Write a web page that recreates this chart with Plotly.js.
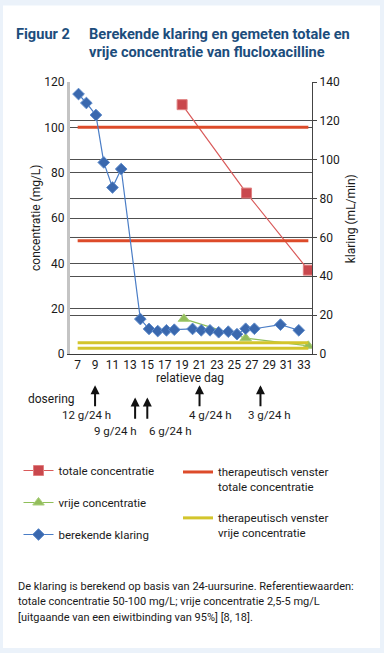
<!DOCTYPE html>
<html>
<head>
<meta charset="utf-8">
<script src="https://cdn.plot.ly/plotly-3.0.1.min.js"></script>
<style>
  html, body { margin: 0; padding: 0; background: #ebf2fa; }
  #chart { width: 384px; height: 653px; }
</style>
</head>
<body>
<div id="chart"></div>
<script>
// ---------- data ----------
const klaringDays   = [7.1, 8.0, 9.1, 10.0, 11.0, 12.0, 14.2, 15.2, 16.2, 17.2, 18.1, 20.2, 21.2, 22.2, 23.2, 24.3, 25.3, 26.3, 27.3, 30.3, 32.4];
const klaringValues = [133.8, 129.2, 123.0, 98.6, 85.7, 95.2, 18.0, 12.9, 11.8, 12.2, 12.5, 12.9, 12.2, 12.2, 11.2, 11.5, 10.2, 13.0, 13.0, 15.1, 12.2];

const totaleDays   = [19.0, 26.4, 33.5];
const totaleValues = [110, 71, 37];

const vrijeDays   = [19.2, 26.3, 33.5];
const vrijeValues = [15.5, 7.0, 3.6];

const windowStart = 7, windowEnd = 33.5;
const totaleWindow = [50, 100];
const vrijeWindow  = [2.5, 5];

const xTickVals = [7, 9, 11, 13, 15, 17, 19, 21, 23, 25, 27, 29, 31, 33];

const doseDays   = [9, 13.6, 15, 21, 28];
const doseLabels = ['12 g/24 h', '9 g/24 h', '6 g/24 h', '4 g/24 h', '3 g/24 h'];

const footnoteLines = [
  'De klaring is berekend op basis van 24-uursurine. Referentiewaarden:',
  'totale concentratie 50-100 mg/L; vrije concentratie 2,5-5 mg/L',
  '[uitgaande van een eiwitbinding van 95%] [8, 18].'
];

// ---------- geometry helpers ----------
const W = 384, H = 653, ML = 70, MR = 72, MT = 81.5, MB = 299.2;
const PW = W - ML - MR, PH = H - MT - MB;
const px2x = px => (px - ML) / PW;
const py2y = py => (H - MB - py) / PH;

const FONT = 'Roboto, "DejaVu Sans", sans-serif';
const TXT = '#1a1a1a';
const TITLE_C = '#1c4d7c';

function windowSeries(lohi) {
  return {
    x: [windowStart, windowEnd, null, windowStart, windowEnd],
    y: [lohi[1], lohi[1], null, lohi[0], lohi[0]]
  };
}
const totW = windowSeries(totaleWindow);
const vrijW = windowSeries(vrijeWindow);

const traces = [
  {
    x: totaleDays, y: totaleValues, name: 'totale concentratie',
    mode: 'lines+markers', yaxis: 'y', legend: 'legend', legendgroup: 'a',
    line: { color: '#d95a5a', width: 1.2 },
    marker: { symbol: 'square', size: 10, color: '#c9484d', line: { color: '#e08080', width: 1 } }
  },
  {
    x: vrijeDays, y: vrijeValues, name: 'vrije concentratie',
    mode: 'lines+markers', yaxis: 'y', legend: 'legend', legendgroup: 'b',
    line: { color: '#8fbf5a', width: 1.2 },
    marker: { symbol: 'triangle-up', size: 10, color: '#93bd5c', line: { color: '#a9cf7a', width: 1 } }
  },
  {
    x: totW.x, y: totW.y, name: 'therapeutisch venster<br>totale concentratie',
    mode: 'lines', yaxis: 'y', legend: 'legend2', legendgroup: 'd',
    line: { color: '#dd4b2a', width: 3 }
  },
  {
    x: vrijW.x, y: vrijW.y, name: 'therapeutisch venster<br>vrije concentratie',
    mode: 'lines', yaxis: 'y', legend: 'legend2', legendgroup: 'e',
    line: { color: '#d3c52c', width: 3 }
  },
  {
    x: klaringDays, y: klaringValues, name: 'berekende klaring',
    mode: 'lines+markers', yaxis: 'y2', legend: 'legend', legendgroup: 'c',
    line: { color: '#4a7dc6', width: 1.2 },
    marker: { symbol: 'diamond', size: 9, color: '#3a68ae', line: { color: '#5f8ccb', width: 1 } }
  }
];

// ---------- annotations ----------
const annotations = [];
function addText(text, px, py, opts) {
  annotations.push(Object.assign({
    xref: 'paper', yref: 'paper', x: px2x(px), y: py2y(py), xanchor: 'left', yanchor: 'middle',
    text: text, showarrow: false, font: { family: FONT, size: 12, color: TXT }
  }, opts || {}));
}
addText('<b>Berekende klaring en gemeten totale en</b>', 88, 33.8, { borderpad: 0, font: { family: FONT, size: 14.6, color: TITLE_C } });
addText('<b>vrije concentratie van flucloxacilline</b>', 88, 51, { borderpad: 0, font: { family: FONT, size: 14.6, color: TITLE_C } });
addText('dosering', 26, 399.3);
addText('relatieve dag', 190, 377.7, { xanchor: 'center' });
addText('concentratie (mg/L)', 36, 217.6, { xanchor: 'center', textangle: -90 });
addText('klaring (mL/min)', 351, 219, { xanchor: 'center', textangle: -90 });

// arrows + labels
const doseRow    = [0, 1, 1, 0, 0];
const doseAnchor = ['center', 'right', 'left', 'center', 'center'];
const doseShift  = [-8.5, 4.3, 0, 11.4, 9.1];
const arrowTop   = [385, 397.3];
const labelY     = [415, 431];
doseDays.forEach((d, i) => {
  annotations.push({
    xref: 'x', yref: 'paper', x: d, y: py2y(arrowTop[doseRow[i]]),
    axref: 'pixel', ayref: 'pixel', ax: 0, ay: 21.7, text: '', showarrow: true,
    font: { size: 1 }, borderpad: 0,
    arrowhead: 2, arrowsize: 0.9, arrowwidth: 2, arrowcolor: '#111', standoff: 0, startstandoff: 0
  });
  annotations.push({
    xref: 'x', yref: 'paper', x: d, y: py2y(labelY[doseRow[i]]), xanchor: doseAnchor[i], yanchor: 'middle',
    xshift: doseShift[i], text: doseLabels[i], showarrow: false,
    font: { family: FONT, size: 11.5, color: TXT }
  });
});

// footnote
const footY = [586.7, 602, 617.3];
footnoteLines.forEach((t, i) => addText(t, 15.7, footY[i], { font: { family: FONT, size: 11, color: TXT } }));

const layout = {
  width: W, height: H,
  margin: { l: ML, r: MR, t: MT, b: MB, pad: 0, autoexpand: false },
  paper_bgcolor: '#ebf2fa', plot_bgcolor: 'white',
  font: { family: FONT, size: 12, color: TXT },
  title: {
    text: '<b>Figuur 2</b>', font: { family: FONT, size: 14.6, color: TITLE_C },
    xref: 'container', yref: 'container', x: 16 / W, xanchor: 'left', y: 1 - 33.8 / H, yanchor: 'middle'
  },
  xaxis: {
    range: [6.12, 33.92], tickmode: 'array', tickvals: xTickVals, ticks: '', automargin: false,
    showgrid: false, zeroline: false, showline: true, linecolor: '#3a3a3a', linewidth: 1,
    tickfont: { family: FONT, size: 12, color: TXT }
  },
  yaxis: {
    range: [0, 120], dtick: 20, showgrid: true, gridcolor: '#505050', gridwidth: 1, zeroline: false,
    showline: true, linecolor: '#c4c4c4', linewidth: 3, ticks: '', automargin: false,
    tickfont: { family: FONT, size: 12, color: TXT }
  },
  yaxis2: {
    range: [0, 140], dtick: 20, overlaying: 'y', side: 'right', automargin: false,
    showgrid: true, gridcolor: '#505050', gridwidth: 1, zeroline: false,
    showline: true, linecolor: '#444', linewidth: 1, ticks: 'outside', ticklen: 4, tickcolor: '#444',
    tickfont: { family: FONT, size: 12, color: TXT }
  },
  legend: {
    xref: 'container', yref: 'container', x: 18.5 / W, y: 1 - 456 / H, xanchor: 'left', yanchor: 'top',
    bgcolor: 'rgba(0,0,0,0)', borderwidth: 0, traceorder: 'grouped', tracegroupgap: 13,
    font: { family: FONT, size: 11.5, color: TXT }
  },
  legend2: {
    xref: 'container', yref: 'container', x: 178 / W, y: 1 - 458 / H, xanchor: 'left', yanchor: 'top',
    bgcolor: 'rgba(0,0,0,0)', borderwidth: 0, traceorder: 'grouped', tracegroupgap: 13, valign: 'top',
    font: { family: FONT, size: 11.5, color: TXT }
  },
  shapes: [
    { type: 'rect', xref: 'paper', yref: 'paper', layer: 'below',
      x0: px2x(3), x1: px2x(380), y0: py2y(648), y1: py2y(5),
      fillcolor: 'white', line: { width: 0 } },
    { type: 'line', xref: 'paper', yref: 'y2', layer: 'between', x0: 0, x1: px2x(316.5), y0: 60, y1: 60,
      line: { color: '#c2c2c2', width: 1 } },
    { type: 'line', xref: 'paper', yref: 'y2', layer: 'between', x0: 0, x1: px2x(316.5), y0: 80, y1: 80,
      line: { color: '#c2c2c2', width: 1 } }
  ],
  annotations: annotations,
  showlegend: true
};

try {
  Plotly.newPlot('chart', traces, layout, { staticPlot: true, displayModeBar: false });
} catch (e) {
  document.body.insertAdjacentHTML('beforeend', '<pre>' + e + '</pre>');
}
</script>
</body>
</html>
